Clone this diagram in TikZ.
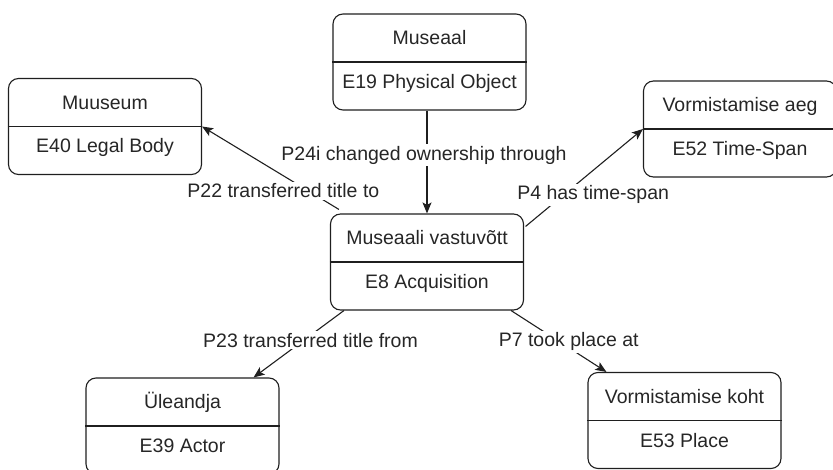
\documentclass[tikz,border=0pt]{standalone}
\usepackage{fontspec}
\setmainfont{Liberation Sans}
\usetikzlibrary{arrows.meta,calc}

% A class box: rounded frame, divider, instance name on top, class below
\newcommand\entitybox[5]{%
  \node[entity] (#1) at (#2,#3) {};
  \draw[frame] (#1.west) -- (#1.east);
  \node[etext, anchor=base] (#1-name) at ($(#1.north)+(0,31.5)$) {#4};
  \node[etext, anchor=base] (#1-class) at ($(#1.center)+(0,26.5)$) {#5};
}

\begin{document}
\begin{tikzpicture}[x=1pt, y=-1pt,
  frame/.style={draw=black!88, line width=1.1pt},
  entity/.style={frame, rounded corners=10pt, minimum width=193pt,
    minimum height=96pt, inner sep=0pt},
  etext/.style={text=black!85, font=\fontsize{19.5}{23}\selectfont, inner sep=0pt},
  rel/.style={frame, -{Stealth[length=11pt, width=9pt, inset=2.5pt]}},
  lbl/.style={fill=white, text=black!85, inner sep=2pt,
    font=\fontsize{19.5}{23}\selectfont}]
\useasboundingbox (0,0) rectangle (833,470);

\entitybox{muse}{429.5}{62}{Museaal}{E19 Physical Object}
\entitybox{muus}{105}{126.5}{Muuseum}{E40 Legal Body}
\entitybox{aeg}{740}{129}{Vormistamise aeg}{E52 Time-Span}
\entitybox{acq}{427}{262}{Museaali vastuvõtt}{E8 Acquisition}
\entitybox{ule}{182.5}{426}{Üleandja}{E39 Actor}
\entitybox{koht}{684.5}{420.5}{Vormistamise koht}{E53 Place}

\draw[rel] (acq.north |- muse.south) -- (acq.north)
  node[lbl, pos=0.433, xshift=-3pt] (l24) {P24i changed ownership through};
\draw[rel] ($(acq.north west)+(9,-4)$) -- (muus.east)
  node[lbl, pos=0.406, yshift=-15pt] (l22) {P22 transferred title to};
\draw[rel] ($(acq.north east)+(1.5,13)$) -- (aeg.west)
  node[lbl, pos=0.576, yshift=-24.5pt] (l4) {P4 has time-span};
\draw[rel] ($(acq.south west)+(14,0)$) -- ($(ule.north east)+(-26,0)$)
  node[lbl, pos=0.37, yshift=-5pt] (l23) {P23 transferred title from};
\draw[rel] ($(acq.south east)+(-13,0)$) -- ($(koht.north west)+(19,0)$)
  node[lbl, pos=0.604, yshift=6pt] (l7) {P7 took place at};
\end{tikzpicture}
\end{document}
